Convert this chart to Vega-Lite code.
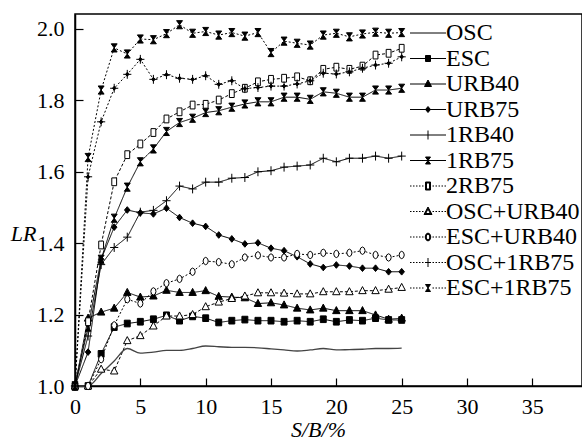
{
  "$schema": "https://vega.github.io/schema/vega-lite/v6.json",
  "width": 507,
  "height": 372,
  "autosize": {"type": "none"},
  "padding": {"left": 75, "top": 14, "right": 0, "bottom": 55},
  "background": "white",
  "config": {
    "font": "Liberation Serif, Times New Roman, DejaVu Serif, serif",
    "view": {"stroke": "black", "strokeWidth": 1.5},
    "axis": {
      "grid": false,
      "domainColor": "black",
      "domainWidth": 1.5,
      "tickColor": "black",
      "tickWidth": 1.2,
      "tickSize": -8,
      "labelColor": "black",
      "labelFont": "Liberation Serif, Times New Roman, DejaVu Serif, serif",
      "labelFontSize": 22,
      "labelFlush": false,
      "titleColor": "black",
      "titleFont": "Liberation Serif, Times New Roman, DejaVu Serif, serif",
      "titleFontSize": 22,
      "titleFontWeight": "normal",
      "titleFontStyle": "italic"
    },
    "legend": {
      "labelFont": "Liberation Serif, Times New Roman, DejaVu Serif, serif",
      "labelFontSize": 24,
      "labelColor": "black"
    }
  },
  "data": {
    "values": [
      {"series":"OSC","x":0,"y":1.0},{"series":"OSC","x":1,"y":1.0},{"series":"OSC","x":2,"y":1.035},{"series":"OSC","x":3,"y":1.07},{"series":"OSC","x":4,"y":1.105},{"series":"OSC","x":5,"y":1.092},{"series":"OSC","x":6,"y":1.095},{"series":"OSC","x":7,"y":1.1},{"series":"OSC","x":8,"y":1.1},{"series":"OSC","x":9,"y":1.105},{"series":"OSC","x":10,"y":1.112},{"series":"OSC","x":11,"y":1.11},{"series":"OSC","x":12,"y":1.108},{"series":"OSC","x":13,"y":1.108},{"series":"OSC","x":14,"y":1.107},{"series":"OSC","x":15,"y":1.104},{"series":"OSC","x":16,"y":1.101},{"series":"OSC","x":17,"y":1.098},{"series":"OSC","x":18,"y":1.101},{"series":"OSC","x":19,"y":1.105},{"series":"OSC","x":20,"y":1.101},{"series":"OSC","x":21,"y":1.102},{"series":"OSC","x":22,"y":1.103},{"series":"OSC","x":23,"y":1.105},{"series":"OSC","x":24,"y":1.105},{"series":"OSC","x":25,"y":1.106},
      {"series":"ESC","x":0,"y":1.0},{"series":"ESC","x":1,"y":1.0},{"series":"ESC","x":2,"y":1.09},{"series":"ESC","x":3,"y":1.165},{"series":"ESC","x":4,"y":1.175},{"series":"ESC","x":5,"y":1.18},{"series":"ESC","x":6,"y":1.187},{"series":"ESC","x":7,"y":1.198},{"series":"ESC","x":8,"y":1.183},{"series":"ESC","x":9,"y":1.195},{"series":"ESC","x":10,"y":1.19},{"series":"ESC","x":11,"y":1.178},{"series":"ESC","x":12,"y":1.183},{"series":"ESC","x":13,"y":1.186},{"series":"ESC","x":14,"y":1.183},{"series":"ESC","x":15,"y":1.183},{"series":"ESC","x":16,"y":1.18},{"series":"ESC","x":17,"y":1.183},{"series":"ESC","x":18,"y":1.18},{"series":"ESC","x":19,"y":1.187},{"series":"ESC","x":20,"y":1.18},{"series":"ESC","x":21,"y":1.185},{"series":"ESC","x":22,"y":1.183},{"series":"ESC","x":23,"y":1.19},{"series":"ESC","x":24,"y":1.185},{"series":"ESC","x":25,"y":1.185},
      {"series":"URB40","x":0,"y":1.0},{"series":"URB40","x":1,"y":1.19},{"series":"URB40","x":2,"y":1.207},{"series":"URB40","x":3,"y":1.218},{"series":"URB40","x":4,"y":1.262},{"series":"URB40","x":5,"y":1.249},{"series":"URB40","x":6,"y":1.252},{"series":"URB40","x":7,"y":1.268},{"series":"URB40","x":8,"y":1.262},{"series":"URB40","x":9,"y":1.262},{"series":"URB40","x":10,"y":1.267},{"series":"URB40","x":11,"y":1.251},{"series":"URB40","x":12,"y":1.249},{"series":"URB40","x":13,"y":1.247},{"series":"URB40","x":14,"y":1.231},{"series":"URB40","x":15,"y":1.233},{"series":"URB40","x":16,"y":1.227},{"series":"URB40","x":17,"y":1.218},{"series":"URB40","x":18,"y":1.213},{"series":"URB40","x":19,"y":1.218},{"series":"URB40","x":20,"y":1.211},{"series":"URB40","x":21,"y":1.211},{"series":"URB40","x":22,"y":1.211},{"series":"URB40","x":23,"y":1.199},{"series":"URB40","x":24,"y":1.187},{"series":"URB40","x":25,"y":1.19},
      {"series":"URB75","x":0,"y":1.0},{"series":"URB75","x":1,"y":1.095},{"series":"URB75","x":2,"y":1.355},{"series":"URB75","x":3,"y":1.445},{"series":"URB75","x":4,"y":1.493},{"series":"URB75","x":5,"y":1.485},{"series":"URB75","x":6,"y":1.482},{"series":"URB75","x":7,"y":1.498},{"series":"URB75","x":8,"y":1.472},{"series":"URB75","x":9,"y":1.456},{"series":"URB75","x":10,"y":1.447},{"series":"URB75","x":11,"y":1.423},{"series":"URB75","x":12,"y":1.412},{"series":"URB75","x":13,"y":1.398},{"series":"URB75","x":14,"y":1.401},{"series":"URB75","x":15,"y":1.386},{"series":"URB75","x":16,"y":1.379},{"series":"URB75","x":17,"y":1.362},{"series":"URB75","x":18,"y":1.342},{"series":"URB75","x":19,"y":1.332},{"series":"URB75","x":20,"y":1.339},{"series":"URB75","x":21,"y":1.336},{"series":"URB75","x":22,"y":1.33},{"series":"URB75","x":23,"y":1.33},{"series":"URB75","x":24,"y":1.32},{"series":"URB75","x":25,"y":1.32},
      {"series":"1RB40","x":0,"y":1.0},{"series":"1RB40","x":1,"y":1.14},{"series":"1RB40","x":2,"y":1.34},{"series":"1RB40","x":3,"y":1.388},{"series":"1RB40","x":4,"y":1.417},{"series":"1RB40","x":5,"y":1.487},{"series":"1RB40","x":6,"y":1.492},{"series":"1RB40","x":7,"y":1.519},{"series":"1RB40","x":8,"y":1.56},{"series":"1RB40","x":9,"y":1.552},{"series":"1RB40","x":10,"y":1.571},{"series":"1RB40","x":11,"y":1.571},{"series":"1RB40","x":12,"y":1.582},{"series":"1RB40","x":13,"y":1.584},{"series":"1RB40","x":14,"y":1.6},{"series":"1RB40","x":15,"y":1.603},{"series":"1RB40","x":16,"y":1.613},{"series":"1RB40","x":17,"y":1.616},{"series":"1RB40","x":18,"y":1.619},{"series":"1RB40","x":19,"y":1.638},{"series":"1RB40","x":20,"y":1.628},{"series":"1RB40","x":21,"y":1.638},{"series":"1RB40","x":22,"y":1.638},{"series":"1RB40","x":23,"y":1.644},{"series":"1RB40","x":24,"y":1.638},{"series":"1RB40","x":25,"y":1.644},
      {"series":"1RB75","x":0,"y":1.0},{"series":"1RB75","x":1,"y":1.165},{"series":"1RB75","x":2,"y":1.355},{"series":"1RB75","x":3,"y":1.47},{"series":"1RB75","x":4,"y":1.557},{"series":"1RB75","x":5,"y":1.628},{"series":"1RB75","x":6,"y":1.664},{"series":"1RB75","x":7,"y":1.713},{"series":"1RB75","x":8,"y":1.738},{"series":"1RB75","x":9,"y":1.75},{"series":"1RB75","x":10,"y":1.766},{"series":"1RB75","x":11,"y":1.771},{"series":"1RB75","x":12,"y":1.781},{"series":"1RB75","x":13,"y":1.79},{"series":"1RB75","x":14,"y":1.796},{"series":"1RB75","x":15,"y":1.796},{"series":"1RB75","x":16,"y":1.809},{"series":"1RB75","x":17,"y":1.809},{"series":"1RB75","x":18,"y":1.803},{"series":"1RB75","x":19,"y":1.824},{"series":"1RB75","x":20,"y":1.82},{"series":"1RB75","x":21,"y":1.809},{"series":"1RB75","x":22,"y":1.809},{"series":"1RB75","x":23,"y":1.829},{"series":"1RB75","x":24,"y":1.829},{"series":"1RB75","x":25,"y":1.834},
      {"series":"2RB75","x":0,"y":1.0},{"series":"2RB75","x":1,"y":1.18},{"series":"2RB75","x":2,"y":1.395},{"series":"2RB75","x":3,"y":1.572},{"series":"2RB75","x":4,"y":1.648},{"series":"2RB75","x":5,"y":1.678},{"series":"2RB75","x":6,"y":1.71},{"series":"2RB75","x":7,"y":1.748},{"series":"2RB75","x":8,"y":1.768},{"series":"2RB75","x":9,"y":1.787},{"series":"2RB75","x":10,"y":1.789},{"series":"2RB75","x":11,"y":1.801},{"series":"2RB75","x":12,"y":1.819},{"series":"2RB75","x":13,"y":1.834},{"series":"2RB75","x":14,"y":1.852},{"series":"2RB75","x":15,"y":1.859},{"series":"2RB75","x":16,"y":1.862},{"series":"2RB75","x":17,"y":1.866},{"series":"2RB75","x":18,"y":1.855},{"series":"2RB75","x":19,"y":1.887},{"series":"2RB75","x":20,"y":1.893},{"series":"2RB75","x":21,"y":1.887},{"series":"2RB75","x":22,"y":1.896},{"series":"2RB75","x":23,"y":1.927},{"series":"2RB75","x":24,"y":1.932},{"series":"2RB75","x":25,"y":1.946},
      {"series":"OSC+URB40","x":0,"y":1.0},{"series":"OSC+URB40","x":1,"y":1.0},{"series":"OSC+URB40","x":2,"y":1.047},{"series":"OSC+URB40","x":3,"y":1.042},{"series":"OSC+URB40","x":4,"y":1.127},{"series":"OSC+URB40","x":5,"y":1.141},{"series":"OSC+URB40","x":6,"y":1.168},{"series":"OSC+URB40","x":7,"y":1.196},{"series":"OSC+URB40","x":8,"y":1.196},{"series":"OSC+URB40","x":9,"y":1.2},{"series":"OSC+URB40","x":10,"y":1.222},{"series":"OSC+URB40","x":11,"y":1.235},{"series":"OSC+URB40","x":12,"y":1.245},{"series":"OSC+URB40","x":13,"y":1.252},{"series":"OSC+URB40","x":14,"y":1.261},{"series":"OSC+URB40","x":15,"y":1.261},{"series":"OSC+URB40","x":16,"y":1.26},{"series":"OSC+URB40","x":17,"y":1.258},{"series":"OSC+URB40","x":18,"y":1.258},{"series":"OSC+URB40","x":19,"y":1.264},{"series":"OSC+URB40","x":20,"y":1.264},{"series":"OSC+URB40","x":21,"y":1.264},{"series":"OSC+URB40","x":22,"y":1.267},{"series":"OSC+URB40","x":23,"y":1.267},{"series":"OSC+URB40","x":24,"y":1.271},{"series":"OSC+URB40","x":25,"y":1.276},
      {"series":"ESC+URB40","x":0,"y":1.0},{"series":"ESC+URB40","x":1,"y":1.0},{"series":"ESC+URB40","x":2,"y":1.075},{"series":"ESC+URB40","x":3,"y":1.17},{"series":"ESC+URB40","x":4,"y":1.243},{"series":"ESC+URB40","x":5,"y":1.231},{"series":"ESC+URB40","x":6,"y":1.265},{"series":"ESC+URB40","x":7,"y":1.288},{"series":"ESC+URB40","x":8,"y":1.3},{"series":"ESC+URB40","x":9,"y":1.32},{"series":"ESC+URB40","x":10,"y":1.35},{"series":"ESC+URB40","x":11,"y":1.347},{"series":"ESC+URB40","x":12,"y":1.341},{"series":"ESC+URB40","x":13,"y":1.36},{"series":"ESC+URB40","x":14,"y":1.366},{"series":"ESC+URB40","x":15,"y":1.36},{"series":"ESC+URB40","x":16,"y":1.36},{"series":"ESC+URB40","x":17,"y":1.37},{"series":"ESC+URB40","x":18,"y":1.367},{"series":"ESC+URB40","x":19,"y":1.373},{"series":"ESC+URB40","x":20,"y":1.37},{"series":"ESC+URB40","x":21,"y":1.373},{"series":"ESC+URB40","x":22,"y":1.379},{"series":"ESC+URB40","x":23,"y":1.367},{"series":"ESC+URB40","x":24,"y":1.36},{"series":"ESC+URB40","x":25,"y":1.367},
      {"series":"OSC+1RB75","x":0,"y":1.0},{"series":"OSC+1RB75","x":1,"y":1.586},{"series":"OSC+1RB75","x":2,"y":1.74},{"series":"OSC+1RB75","x":3,"y":1.834},{"series":"OSC+1RB75","x":4,"y":1.873},{"series":"OSC+1RB75","x":5,"y":1.915},{"series":"OSC+1RB75","x":6,"y":1.859},{"series":"OSC+1RB75","x":7,"y":1.872},{"series":"OSC+1RB75","x":8,"y":1.862},{"series":"OSC+1RB75","x":9,"y":1.859},{"series":"OSC+1RB75","x":10,"y":1.869},{"series":"OSC+1RB75","x":11,"y":1.845},{"series":"OSC+1RB75","x":12,"y":1.855},{"series":"OSC+1RB75","x":13,"y":1.833},{"series":"OSC+1RB75","x":14,"y":1.836},{"series":"OSC+1RB75","x":15,"y":1.84},{"series":"OSC+1RB75","x":16,"y":1.84},{"series":"OSC+1RB75","x":17,"y":1.846},{"series":"OSC+1RB75","x":18,"y":1.855},{"series":"OSC+1RB75","x":19,"y":1.876},{"series":"OSC+1RB75","x":20,"y":1.874},{"series":"OSC+1RB75","x":21,"y":1.88},{"series":"OSC+1RB75","x":22,"y":1.89},{"series":"OSC+1RB75","x":23,"y":1.899},{"series":"OSC+1RB75","x":24,"y":1.904},{"series":"OSC+1RB75","x":25,"y":1.922},
      {"series":"ESC+1RB75","x":0,"y":1.0},{"series":"ESC+1RB75","x":1,"y":1.64},{"series":"ESC+1RB75","x":2,"y":1.829},{"series":"ESC+1RB75","x":3,"y":1.947},{"series":"ESC+1RB75","x":4,"y":1.93},{"series":"ESC+1RB75","x":5,"y":1.972},{"series":"ESC+1RB75","x":6,"y":1.97},{"series":"ESC+1RB75","x":7,"y":1.987},{"series":"ESC+1RB75","x":8,"y":2.012},{"series":"ESC+1RB75","x":9,"y":1.988},{"series":"ESC+1RB75","x":10,"y":1.993},{"series":"ESC+1RB75","x":11,"y":1.983},{"series":"ESC+1RB75","x":12,"y":1.99},{"series":"ESC+1RB75","x":13,"y":1.98},{"series":"ESC+1RB75","x":14,"y":1.99},{"series":"ESC+1RB75","x":15,"y":1.934},{"series":"ESC+1RB75","x":16,"y":1.966},{"series":"ESC+1RB75","x":17,"y":1.96},{"series":"ESC+1RB75","x":18,"y":1.955},{"series":"ESC+1RB75","x":19,"y":1.983},{"series":"ESC+1RB75","x":20,"y":1.988},{"series":"ESC+1RB75","x":21,"y":1.978},{"series":"ESC+1RB75","x":22,"y":1.986},{"series":"ESC+1RB75","x":23,"y":1.991},{"series":"ESC+1RB75","x":24,"y":1.988},{"series":"ESC+1RB75","x":25,"y":1.99}
    ]
  },
  "encoding": {
    "x": {
      "field": "x", "type": "quantitative",
      "scale": {"domain": [0, 38.8], "nice": false, "zero": false},
      "axis": {
        "values": [0, 5, 10, 15, 20, 25, 30, 35],
        "labelPadding": 18,
        "title": "S/B/%",
        "titleX": 243,
        "titleY": 50,
        "titleBaseline": "alphabetic"
      }
    },
    "y": {
      "field": "y", "type": "quantitative",
      "scale": {"domain": [1.0, 2.042], "nice": false, "zero": false},
      "axis": {
        "values": [1.0, 1.2, 1.4, 1.6, 1.8, 2.0],
        "format": ".1f",
        "labelPadding": 19,
        "title": "LR",
        "titleAngle": 0,
        "titleX": -52,
        "titleY": 219,
        "titleAlign": "center",
        "titleBaseline": "middle"
      }
    }
  },
  "layer": [
    {
      "transform": [{"filter": "datum.series != 'OSC'"}],
      "mark": {"type": "line", "color": "black", "strokeWidth": 1},
      "encoding": {
        "strokeDash": {
          "field": "series", "type": "nominal",
          "scale": {
            "domain": ["OSC","ESC","URB40","URB75","1RB40","1RB75","2RB75","OSC+URB40","ESC+URB40","OSC+1RB75","ESC+1RB75"],
            "range": [[1,0],[1,0],[1,0],[1,0],[1,0],[1,0],[3,2],[3,2],[2,2],[2,2],[2,2]]
          },
          "legend": null
        }
      }
    },
    {
      "transform": [{"filter": "datum.series == 'OSC'"}],
      "mark": {"type": "line", "color": "#444444", "strokeWidth": 1.3, "interpolate": "monotone"},
      "encoding": {}
    },
    {
      "transform": [{"filter": "datum.series != 'OSC'"}],
      "mark": {"type": "point", "stroke": "black", "strokeWidth": 1, "opacity": 1, "size": 55},
      "encoding": {
        "shape": {
          "field": "series", "type": "nominal",
          "scale": {
            "domain": ["OSC","ESC","URB40","URB75","1RB40","1RB75","2RB75","OSC+URB40","ESC+URB40","OSC+1RB75","ESC+1RB75"],
            "range": [
              "M0,0",
              "M-0.8,-0.9H0.8V0.9H-0.8Z",
              "M0,-1.1L1,0.8H-1Z",
              "M0,-0.9L0.75,0L0,0.9L-0.75,0Z",
              "M-1.1,0H1.1M0,-1.2V1.2",
              "M-0.8,-1.1H0.8L-0.8,1.1H0.8Z",
              "M-0.65,-1.05H0.65V1.05H-0.65Z",
              "M0,-1.1L1,0.8H-1Z",
              "M0,-1L0.5,-0.7L0.7,0L0.5,0.7L0,1L-0.5,0.7L-0.7,0L-0.5,-0.7Z",
              "M-1.1,0H1.1M0,-1.2V1.2M0,-0.55L0.45,0L0,0.55L-0.45,0Z",
              "M-0.8,-1.1H0.8L-0.8,1.1H0.8Z"
            ]
          },
          "legend": null
        },
        "fill": {
          "field": "series", "type": "nominal",
          "scale": {
            "domain": ["OSC","ESC","URB40","URB75","1RB40","1RB75","2RB75","OSC+URB40","ESC+URB40","OSC+1RB75","ESC+1RB75"],
            "range": ["black","black","black","black","black","black","white","white","white","black","black"]
          },
          "legend": null
        }
      }
    },
    {
      "mark": {"type": "point", "filled": false, "color": "black", "fill": "black", "stroke": "black", "strokeWidth": 1, "opacity": 0},
      "encoding": {
        "shape": {
          "field": "series", "type": "nominal",
          "scale": {
            "domain": ["OSC","ESC","URB40","URB75","1RB40","1RB75","2RB75","OSC+URB40","ESC+URB40","OSC+1RB75","ESC+1RB75"],
            "range": [
              "M-1,0H2.6",
              "M-1,0H2.6M0.55,-0.3H1.05V0.3H0.55Z",
              "M-1,0H2.6M0.8,-0.4L1.15,0.25H0.45Z",
              "M-1,0H2.6M0.8,-0.3L1.05,0L0.8,0.3L0.55,0Z",
              "M-1,0H2.6M0.8,-0.45V0.45",
              "M-1,0H2.6M0.55,-0.35H1.05L0.55,0.35H1.05Z",
              "M-1,0H-0.85M-0.7,0H-0.55M-0.4,0H-0.25M-0.1,0H0.05M0.2,0H0.35M1.25,0H1.4M1.55,0H1.7M1.85,0H2.0M2.15,0H2.3M2.45,0H2.6M0.55,-0.4H1.05V0.4H0.55ZM0.65,-0.3V0.3H0.95V-0.3Z",
              "M-1,0H-0.85M-0.7,0H-0.55M-0.4,0H-0.25M-0.1,0H0.05M0.2,0H0.35M1.25,0H1.4M1.55,0H1.7M1.85,0H2.0M2.15,0H2.3M2.45,0H2.6M0.8,-0.45L1.2,0.3H0.4ZM0.8,-0.25L0.57,0.2H1.03Z",
              "M-1,0H-0.85M-0.7,0H-0.55M-0.4,0H-0.25M-0.1,0H0.05M0.2,0H0.35M1.25,0H1.4M1.55,0H1.7M1.85,0H2.0M2.15,0H2.3M2.45,0H2.6M0.8,-0.4L1.0,-0.28L1.08,0L1.0,0.28L0.8,0.4L0.6,0.28L0.52,0L0.6,-0.28ZM0.8,-0.3L0.67,-0.2L0.62,0L0.67,0.2L0.8,0.3L0.93,0.2L0.98,0L0.93,-0.2Z",
              "M-1,0H-0.85M-0.7,0H-0.55M-0.4,0H-0.25M-0.1,0H0.05M0.2,0H0.35M1.25,0H1.4M1.55,0H1.7M1.85,0H2.0M2.15,0H2.3M2.45,0H2.6M0.5,0H1.1M0.8,-0.45V0.45",
              "M-1,0H-0.85M-0.7,0H-0.55M-0.4,0H-0.25M-0.1,0H0.05M0.2,0H0.35M1.25,0H1.4M1.55,0H1.7M1.85,0H2.0M2.15,0H2.3M2.45,0H2.6M0.55,-0.35H1.05L0.55,0.35H1.05Z"
            ]
          },
          "legend": {
            "title": null,
            "orient": "none",
            "legendX": 333,
            "legendY": 7,
            "padding": 0,
            "symbolSize": 400,
            "symbolOpacity": 1,
            "symbolStrokeWidth": 1,
            "labelOffset": 14,
            "labelLimit": 250,
            "rowPadding": 1.5
          }
        }
      }
    }
  ],
  "resolve": {"scale": {"shape": "independent"}, "legend": {"shape": "independent"}}
}
